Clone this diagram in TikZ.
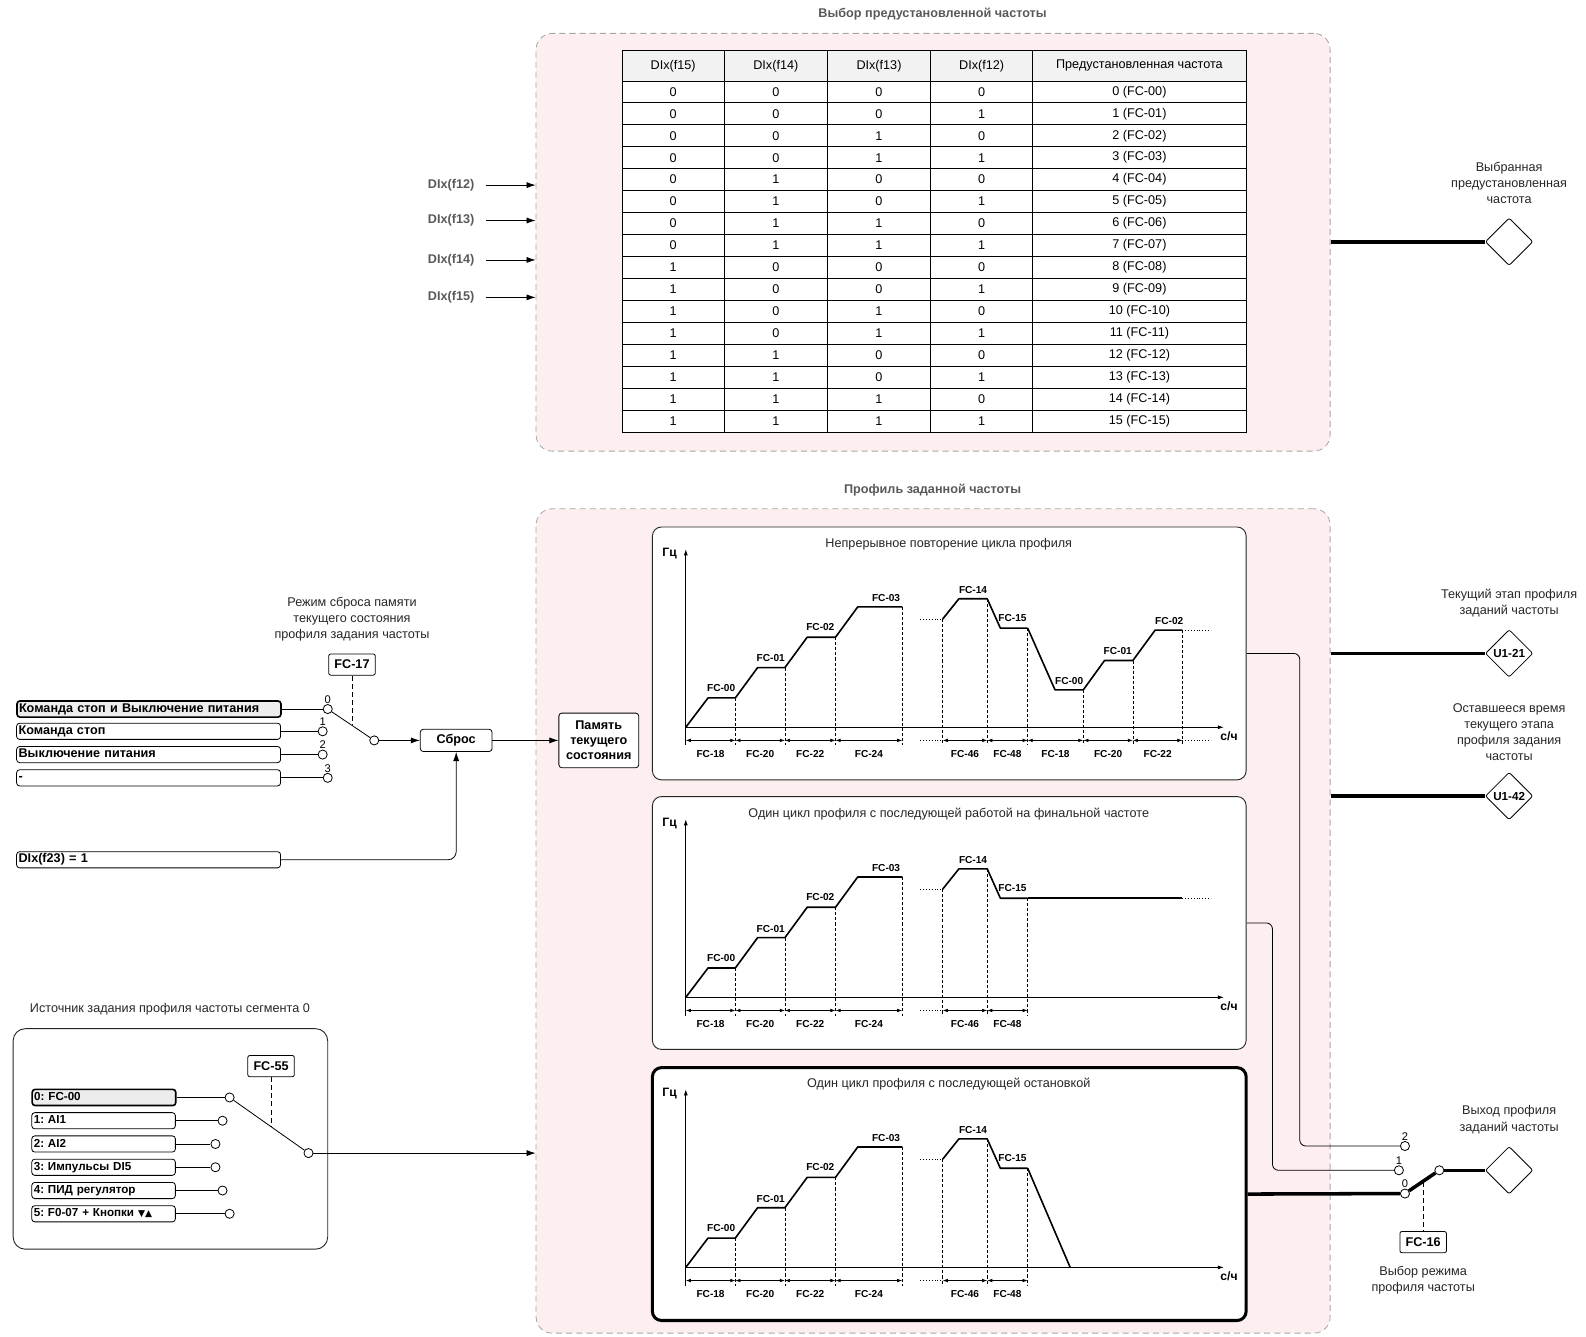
\documentclass[tikz,border=0pt]{standalone}
\usepackage{fontspec}
\setmainfont{Liberation Sans}
\newfontfamily\symfont{DejaVu Sans}
\usetikzlibrary{shapes.geometric,arrows.meta,calc}

\definecolor{grpfill}{HTML}{FDEFEF}
\definecolor{grpline}{HTML}{A6A6A6}
\definecolor{titlegray}{HTML}{595959}
\definecolor{hdrfill}{HTML}{F2F2F2}
\definecolor{selfill}{HTML}{EDEDED}

\begin{document}
\frenchspacing
\begin{tikzpicture}[x=1pt, y=-1pt,
    font=\fontsize{12.5}{16}\selectfont,
    group/.style={draw=grpline, dash pattern=on 6pt off 4pt, fill=grpfill, rounded corners=16pt, line width=0.8pt},
    grouptitle/.style={font=\fontsize{12.5}{16}\selectfont\bfseries, text=titlegray},
    cell/.style={draw, fill=white, line width=0.8pt, minimum height=21.69pt, inner sep=0pt},
    param/.style={draw, rounded corners=2pt, fill=white, font=\fontsize{12.5}{16}\selectfont\bfseries, minimum width=46pt, minimum height=21pt, inner sep=2pt, line width=0.8pt},
    srcbox/.style={draw, rounded corners=3pt, fill=white, anchor=west, text width=257pt, align=left, inner xsep=2pt, inner ysep=2pt, text height=9pt, text depth=3pt, font=\fontsize{12.5}{16}\selectfont\bfseries, line width=0.8pt},
    optbox/.style={srcbox, text width=138pt, font=\fontsize{11.5}{14}\selectfont\bfseries},
    selected/.style={fill=selfill, line width=1.6pt},
    contact/.style={circle, draw, fill=white, inner sep=0pt, minimum size=9pt, line width=0.8pt},
    block/.style={draw, rounded corners=3pt, fill=white, align=center, font=\fontsize{12.5}{15}\selectfont\bfseries, line width=0.8pt},
    outdiamond/.style={diamond, draw, fill=white, rounded corners=2pt, minimum width=47pt, minimum height=47pt, inner sep=0pt, font=\fontsize{11.5}{14}\selectfont\bfseries, line width=0.8pt},
    graphbox/.style={draw=black!85, fill=white, rounded corners=9pt, minimum width=587pt, minimum height=250pt, line width=0.9pt},
    note/.style={align=center, text=black!85},
    pinlbl/.style={font=\fontsize{11}{12}\selectfont, inner sep=0.5pt, anchor=south},
    lev/.style={font=\fontsize{10}{12}\selectfont\bfseries, inner sep=1pt},
    unitlbl/.style={font=\fontsize{12}{14}\selectfont\bfseries, inner sep=1pt},
    prof/.style={line width=1.6pt, line join=round},
    guide/.style={dash pattern=on 3pt off 2pt, line width=0.6pt},
    dim/.style={{Latex[length=5pt,width=3.5pt]}-{Latex[length=5pt,width=3.5pt]}, line width=0.6pt},
    conn/.style={-{Latex[length=9pt,width=6pt]}, line width=0.8pt},
    bus/.style={line width=3.5pt},
    link/.style={line width=0.8pt},
    ctrl/.style={line width=0.8pt, dash pattern=on 5pt off 3pt}
]
\useasboundingbox (0,0) rectangle (1568,1321);

% groups
\node[grouptitle] (titleA) at (922,14) {Выбор предустановленной частоты};
\node[group, minimum width=785pt, minimum height=413pt] (grpA) at (922.5,239.5) {};
\node[grouptitle] (titleB) at (922,485) {Профиль заданной частоты};
\node[group, minimum width=785pt, minimum height=815pt] (grpB) at (922.5,910.5) {};

% preset table
\foreach \hd/\cx/\cw [count=\c] in {DIx(f15)/665.5/101, DIx(f14)/767/102, DIx(f13)/869/102, DIx(f12)/970.5/101, Предустановленная частота/1126.5/211}
    \node[cell, fill=hdrfill, minimum width=\cw pt, minimum height=30pt] (hd\c) at (\cx,65) {\hd};
\foreach \r in {0,...,15} {
    \pgfmathtruncatemacro{\bA}{floor(\r/8)}
    \pgfmathtruncatemacro{\bB}{mod(floor(\r/4),2)}
    \pgfmathtruncatemacro{\bC}{mod(floor(\r/2),2)}
    \pgfmathtruncatemacro{\bD}{mod(\r,2)}
    \pgfmathsetmacro{\ry}{80+21.69*(\r+0.5)}
    \node[cell, minimum width=101pt] (cA\r) at (665.5,\ry) {\bA};
    \node[cell, minimum width=102pt] (cB\r) at (767,\ry) {\bB};
    \node[cell, minimum width=102pt] (cC\r) at (869,\ry) {\bC};
    \node[cell, minimum width=101pt] (cD\r) at (970.5,\ry) {\bD};
    \node[cell, minimum width=211pt] (cE\r) at (1126.5,\ry) {\r\ (FC-\ifnum\r<10 0\fi\r)};
}

% preset inputs and output
\foreach \f/\yy in {12/183, 13/218, 14/257, 15/294} {
    \node[grouptitle] (dx\f) at (446,\yy) {DIx(f\f)};
    \draw[conn] ([xshift=8pt]dx\f.east) -- (dx\f -| grpA.west);
}
\node[note] (presetlbl) at (1492,181) {Выбранная\\предустановленная\\частота};
\node[outdiamond] (preset) at (1492,239) {};
\draw[bus] (grpA.east |- preset) -- (preset);

% reset of profile memory
\node[note] (fc17lbl) at (348,612) {Режим сброса памяти\\текущего состояния\\профиля задания частоты};
\node[param] (fc17) at (348,657) {FC-17};
\node[srcbox, selected] (rsA) at (16,701) {Команда стоп и Выключение питания};
\node[srcbox] (rsB) at (16,723) {Команда стоп};
\node[srcbox] (rsC) at (16,746) {Выключение питания};
\node[srcbox] (rsD) at (16,769) {-};
\node[srcbox] (dx23) at (16,850) {DIx(f23) = 1};
\node[contact] (rc0) at (324,701) {};
\node[contact] (rc1) at (319,723) {};
\node[contact] (rc2) at (319,746) {};
\node[contact] (rc3) at (324,769) {};
\node[contact] (rcc) at (370,732) {};
\foreach \s/\i in {A/0, B/1, C/2, D/3} {
    \draw[link] (rs\s.east) -- (rc\i);
    \node[pinlbl] (rn\i) at (rc\i.north) {\i};
}
\node[block, minimum width=71pt, minimum height=22pt] (reset) at (451,732) {Сброс};
\node[block, minimum width=79pt, minimum height=54pt] (memory) at (592,732) {Память\\текущего\\состояния};
\draw[link] (rc0) -- (rcc);
\coordinate (armA) at ($(rc0)!0.52!(rcc)$);
\draw[ctrl] (fc17.south) -- (fc17.south |- armA);
\draw[conn] (rcc) -- (reset);
\draw[conn] (reset) -- (memory);
\draw[conn, rounded corners=8pt] (dx23.east) -| (reset.south);

% segment 0 source
\node[note] (srclbl) at (168,998) {Источник задания профиля частоты сегмента 0};
\node[draw=black!85, rounded corners=12pt, minimum width=311pt, minimum height=218pt, line width=0.9pt] (srcpanel) at (168.5,1126) {};
\node[param] (fc55) at (268,1054) {FC-55};
\node[optbox, selected] (opt0) at (31,1085) {0: FC-00};
\node[optbox] (opt1) at (31,1108) {1: AI1};
\node[optbox] (opt2) at (31,1131) {2: AI2};
\node[optbox] (opt3) at (31,1154) {3: Импульсы DI5};
\node[optbox] (opt4) at (31,1177) {4: ПИД регулятор};
\node[optbox] (opt5) at (31,1200) {5: F0-07 + Кнопки {\symfont\fontsize{9}{10}\selectfont ▼▲}};
\foreach \i/\sx in {0/227, 1/220, 2/213, 3/213, 4/220, 5/227} {
    \node[contact] (sc\i) at (\sx,{1085+23*\i}) {};
    \draw[link] (opt\i.east) -- (sc\i);
}
\node[contact] (scc) at (305,1140) {};
\draw[link] (sc0) -- (scc);
\coordinate (armB) at ($(sc0)!0.53!(scc)$);
\draw[ctrl] (fc55.south) -- (fc55.south |- armB);
\draw[conn] (scc) -- (scc -| grpB.west);

% profile graphs
\node[graphbox] (gA) at (938.5,646) {};
\node[graphbox] (gB) at (938.5,912.5) {};
\node[graphbox, draw=black, line width=3pt] (gC) at (938.5,1180.5) {};

\foreach \g/\off/\ttl in {A/0/Непрерывное повторение цикла профиля, B/267/Один цикл профиля с последующей работой на финальной частоте, C/534/Один цикл профиля с последующей остановкой} {
  \begin{scope}[shift={(678,719+\off)}]
    \node[note] (ttl\g) at (260,-181) {\ttl};
    \draw[-{Latex[length=6pt,width=4pt]}, line width=0.8pt] (0,0) -- (0,-176);
    \draw[-{Latex[length=6pt,width=4pt]}, line width=0.8pt] (0,0) -- (532,0);
    \draw[line width=0.6pt] (0,0) -- (0,18);
    \node[unitlbl] (hz\g) at (-16,-172) {Гц};
    \node[unitlbl] (sh\g) at (537,9) {с/ч};
    \draw[prof] (0,0) -- (22,-29) -- (49,-29) -- (71,-59) -- (98,-59) -- (120,-89) -- (148,-89) -- (170,-119) -- (214,-119);
    \draw[line width=0.8pt, dotted] (232,-107) -- (254,-107);
    \draw[prof] (254,-107) -- (270,-127) -- (298,-127) -- (311,-98) -- (338,-98);
    \foreach \gx/\gy in {49/-29, 98/-59, 148/-89, 214/-119, 254/-107, 298/-127, 338/-98}
        \draw[guide] (\gx,\gy) -- (\gx,18);
    \foreach \da/\db/\dl in {0/49/FC-18, 49/98/FC-20, 98/148/FC-22, 148/214/FC-24, 254/298/FC-46, 298/338/FC-48} {
        \draw[dim] (\da,13) -- (\db,13);
        \node[lev] (d\g\da) at ({(\da+\db)/2},26) {\dl};
    }
    \draw[line width=0.8pt, dotted] (232,13) -- (254,13);
    \foreach \lx/\ly/\lt in {35/-39/FC-00, 84/-68/FC-01, 133/-99/FC-02, 198/-128/FC-03, 284/-136/FC-14, 323/-108/FC-15}
        \node[lev] (l\g\lx) at (\lx,\ly) {\lt};
  \end{scope}
}

% continuous repeat
\begin{scope}[shift={(678,719)}]
    \draw[prof] (338,-98) -- (365,-37) -- (393,-37) -- (414,-66) -- (442,-66) -- (464,-96) -- (491,-96);
    \draw[line width=0.8pt, dotted] (491,-96) -- (519,-96);
    \foreach \gx/\gy in {393/-37, 442/-66, 491/-96}
        \draw[guide] (\gx,\gy) -- (\gx,18);
    \foreach \da/\db/\dl in {338/393/FC-18, 393/442/FC-20, 442/491/FC-22} {
        \draw[dim] (\da,13) -- (\db,13);
        \node[lev] (dR\da) at ({(\da+\db)/2},26) {\dl};
    }
    \draw[line width=0.8pt, dotted] (491,13) -- (519,13);
    \foreach \lx/\ly/\lt in {379/-46/FC-00, 427/-75/FC-01, 478/-105/FC-02}
        \node[lev] (lR\lx) at (\lx,\ly) {\lt};
\end{scope}

% final frequency
\begin{scope}[shift={(678,986)}]
    \draw[prof] (338,-98) -- (491,-98);
    \draw[line width=0.8pt, dotted] (491,-98) -- (519,-98);
\end{scope}

% stop
\begin{scope}[shift={(678,1253)}]
    \draw[prof] (338,-98) -- (380,0);
\end{scope}

% status outputs
\node[note] (stagelbl) at (1492,596) {Текущий этап профиля\\заданий частоты};
\node[outdiamond] (stage) at (1492,646) {U1-21};
\node[note] (remainlbl) at (1492,724) {Оставшееся время\\текущего этапа\\профиля задания\\частоты};
\node[outdiamond] (remain) at (1492,787) {U1-42};
\draw[bus] (grpB.east |- stage) -- (stage);
\draw[bus] (grpB.east |- remain) -- (remain);

% profile mode switch
\node[contact] (sw2) at (1389,1133) {};
\node[contact] (sw1) at (1383,1157) {};
\node[contact] (sw0) at (1389,1180) {};
\node[contact] (swc) at (1423,1157) {};
\foreach \i in {0,1,2}
    \node[pinlbl] (sn\i) at (sw\i.north) {\i};
\node[note] (profoutlbl) at (1492,1107) {Выход профиля\\заданий частоты};
\node[outdiamond] (profout) at (1492,1157) {};
\coordinate (bendA) at (1285,1133);
\coordinate (bendB) at (1258,1157);
\draw[link, rounded corners=6pt] (gA.east) -| (bendA) -- (sw2);
\draw[link, rounded corners=6pt] (gB.east) -| (bendB) -- (sw1);
\draw[bus] (gC.east) -- (sw0);
\draw[bus] (sw0) -- (swc);
\draw[bus] (swc) -- (profout);
\node[param] (fc16) at (1407,1228) {FC-16};
\coordinate (armC) at ($(sw0)!0.5!(swc)$);
\draw[ctrl] (fc16.north |- armC) -- (fc16.north);
\node[note] (fc16lbl) at (1407,1266) {Выбор режима\\профиля частоты};
\end{tikzpicture}
\end{document}
